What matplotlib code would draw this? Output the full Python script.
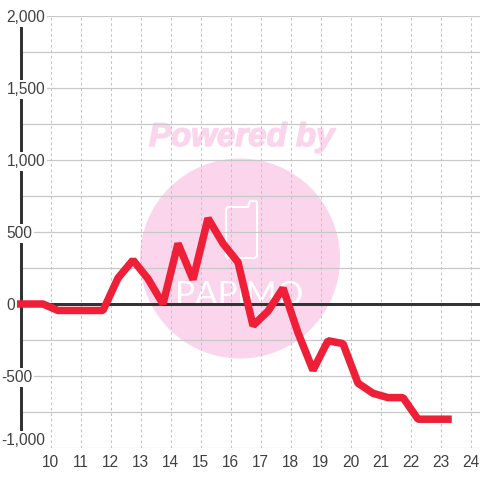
import matplotlib
matplotlib.use("Agg")
import matplotlib.pyplot as plt
import matplotlib.patheffects as pe
from matplotlib.patches import Circle, PathPatch
from matplotlib.path import Path
from matplotlib.transforms import Affine2D, blended_transform_factory

hours = [8.75, 9.25, 9.75, 10.25, 10.75, 11.25, 11.75, 12.25, 12.75, 13.25, 13.75, 14.25,
         14.75, 15.25, 15.75, 16.25, 16.75, 17.25, 17.75, 18.25, 18.75, 19.25,
         19.75, 20.25, 20.75, 21.25, 21.75, 22.25, 22.75, 23.25]
values = [0, 0, 0, -45, -45, -45, -45, 180, 305, 175, 0, 420,
          170, 595, 420, 290, -150, -50, 110, -200, -460, -255,
          -275, -550, -620, -650, -650, -800, -800, -800]
x_ticks = list(range(10, 25))
y_major = [2000, 1500, 1000, 500, 0, -500, -1000]
y_minor = [1750, 1250, 750, 250, -250, -750]
y_labels = ["2,000", "1,500", "1,000", "500", "0", "-500", "-1,000"]

TEXT = "#404040"
PINK = "#fbd5ec"
RED = "#ee1f36"
W = 480
plt.rcParams["font.family"] = ["Liberation Sans", "DejaVu Sans"]
fig = plt.figure(figsize=(W / 100, W / 100), dpi=100, facecolor="white")
px = Affine2D().scale(1 / W, -1 / W).translate(0, 1) + fig.transFigure

# watermark (sits beneath the axes)
fig.add_artist(Circle((240, 258.5), 100, transform=px, fc=PINK, ec="none", zorder=-5))
fig.add_artist(plt.Text(241.5, 134, "Powered by", transform=px, ha="center", va="center_baseline",
                        fontsize=23.8, fontweight="bold", fontstyle="italic", color=PINK, zorder=-5,
                        path_effects=[pe.withStroke(linewidth=1.0, foreground=PINK)]))
icon_v = [(229, 207), (248, 207), (250, 201), (255, 201), (257, 201), (257, 203), (257, 255),
          (257, 258), (254, 258), (229, 258), (226, 258), (226, 255), (226, 210), (226, 207), (229, 207)]
icon_c = [Path.MOVETO, Path.LINETO, Path.LINETO, Path.LINETO, Path.CURVE3, Path.CURVE3, Path.LINETO,
          Path.CURVE3, Path.CURVE3, Path.LINETO, Path.CURVE3, Path.CURVE3, Path.LINETO, Path.CURVE3, Path.CURVE3]
fig.add_artist(PathPatch(Path(icon_v, icon_c), transform=px, fc="none", ec="white", lw=1.5, zorder=-4))
fig.add_artist(plt.Text(239.5, 305, "PAPiMO", transform=px, ha="center", va="baseline",
                        fontsize=24, family=["Lato", "DejaVu Sans"], color="white", zorder=-4))

ax = fig.add_axes([20.5 / W, (W - 448) / W, (W - 20.5) / W, 432 / W])
ax.patch.set_visible(False)
ax.set_xlim(9, 9 + (W - 20.5) / 30)
ax.set_ylim(-1000, 2000)
for s in ax.spines.values():
    s.set_visible(False)
ax.tick_params(left=False, bottom=False, labelleft=False, labelbottom=False)

for v in y_major + y_minor:
    ax.axhline(v, color="#c8c8c8", lw=0.9, zorder=1)
for t in x_ticks:
    ax.axvline(t, color="#c4c4c4", lw=0.75, dashes=(2.6, 2.6), zorder=1)
ax.axvline(9, color="#333333", lw=2.16, clip_on=False, zorder=2)
ax.axhline(0, color="#333333", lw=2.16, zorder=2)
ax.plot(hours, values, color=RED, lw=5.4, solid_joinstyle="bevel", solid_capstyle="projecting",
        clip_on=False, zorder=3)

ylab = blended_transform_factory(fig.transFigure, ax.transData)
for v, s in zip(y_major, y_labels):
    left = 1.5 / W if s.startswith("-") else 6.5 / W
    kw = dict(va="center_baseline")
    if v == y_major[-1]:
        kw = dict(va="bottom")
    ax.text(left, v, s, transform=ylab, ha="left", fontsize=11.2, color=TEXT, zorder=4,
            clip_on=False, bbox=dict(boxstyle="square,pad=0.12", fc="white", ec="none"), **kw)
xlab = blended_transform_factory(ax.transData, fig.transFigure)
for t in x_ticks:
    ax.text(t, 1 - 461 / W, str(t), transform=xlab, ha="center", va="center_baseline", fontsize=11.2,
            color=TEXT, zorder=4, clip_on=False)

fig.savefig("out.png", dpi=100)
